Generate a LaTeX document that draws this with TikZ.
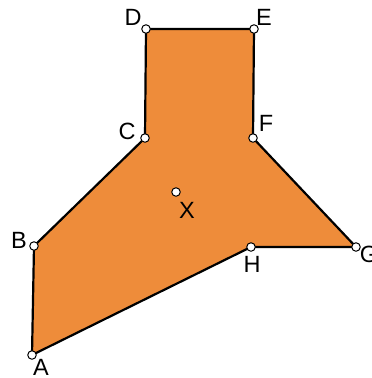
\documentclass[tikz,border=0pt]{standalone}
\usepackage{fontspec}
\setmainfont{Liberation Sans}
\definecolor{fillor}{RGB}{238,140,58}
\begin{document}
\begin{tikzpicture}[x=1pt,y=-1pt,
  vtx/.style={circle,draw=black,fill=white,line width=1pt,inner sep=0pt,minimum size=8.5pt},
  lbl/.style={font=\fontsize{23.5}{23.5}\selectfont,inner sep=0pt}]
\useasboundingbox (0,0) rectangle (372,378);
\coordinate (A) at (32,355);
\coordinate (B) at (34,246);
\coordinate (C) at (145,138);
\coordinate (D) at (146,29);
\coordinate (E) at (254,29);
\coordinate (F) at (253,138);
\coordinate (G) at (356,247);
\coordinate (H) at (251,247);
\coordinate (X) at (176,192);
\filldraw[fill=fillor,draw=black,line width=2.2pt,line join=round]
  (A) -- (B) -- (C) -- (D) -- (E) -- (F) -- (G) -- (H) -- cycle;
\foreach \p in {A,B,C,D,E,F,G,H,X} \node[vtx] (v\p) at (\p) {};
\node[lbl] (lA) at (41,367) {A};
\node[lbl] (lB) at (19,240) {B};
\node[lbl] (lC) at (127,131) {C};
\node[lbl] (lD) at (133,17) {D};
\node[lbl] (lE) at (264,17) {E};
\node[lbl] (lF) at (266,123) {F};
\node[lbl] (lG) at (369,254) {G};
\node[lbl] (lH) at (252,264) {H};
\node[lbl] (lX) at (187,210) {X};
\end{tikzpicture}
\end{document}
